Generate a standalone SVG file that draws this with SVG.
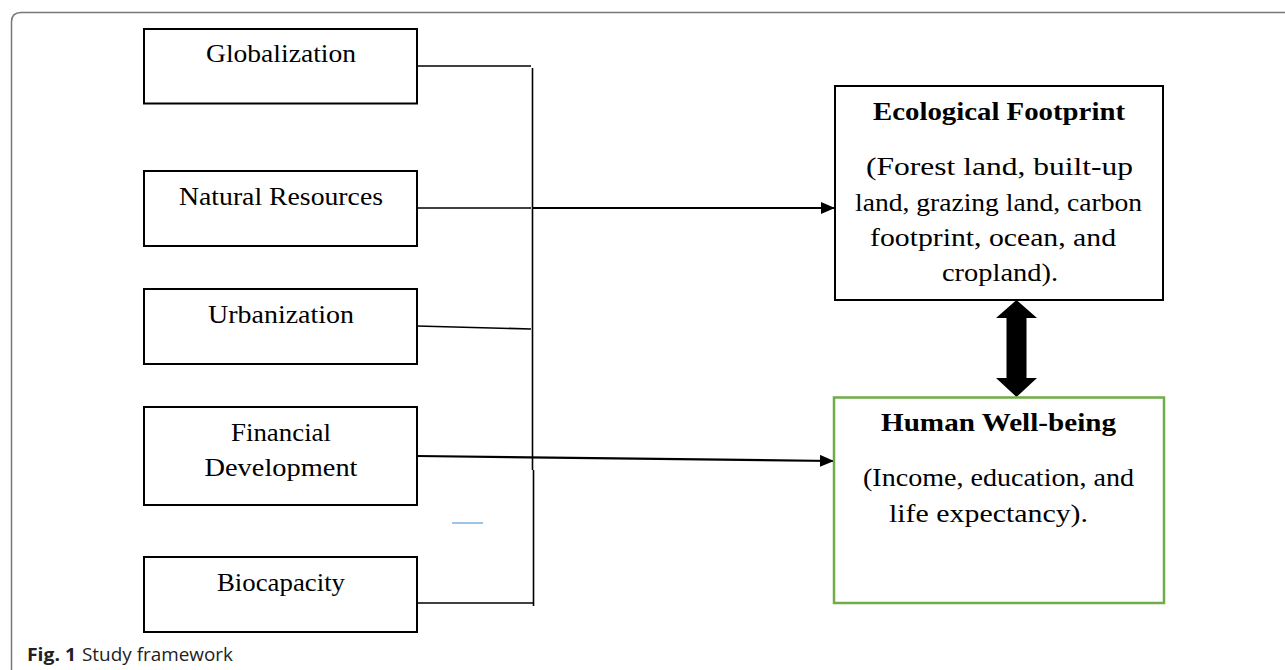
<svg xmlns="http://www.w3.org/2000/svg" width="1285" height="670" viewBox="0 0 1285 670">
<style>
.box{fill:#fff;stroke:#000;stroke-width:2}
.green{fill:#fff;stroke:#70ad47;stroke-width:2.5}
.t{font-family:"Liberation Serif",serif;font-size:26px;fill:#000;text-anchor:middle}
.b{font-weight:bold}
.ln{stroke:#000;stroke-width:1.6;fill:none}
.ar{stroke:#000;stroke-width:2.2;fill:none}
.cap{font-family:"Open Sans","Noto Sans",sans-serif;font-size:18px;fill:#222}
</style>
<defs>
<marker id="ah" markerWidth="14" markerHeight="12" refX="13" refY="6" orient="auto" markerUnits="userSpaceOnUse">
<path d="M0,0 L14,6 L0,12 Z" fill="#000"/>
</marker>
</defs>
<rect width="1285" height="670" fill="#fff"/>
<path d="M11.5,680 L11.5,22 Q11.5,12.5 21,12.5 L1295,12.5" fill="none" stroke="#777" stroke-width="1.5"/>
<g id="connectors">
<line class="ln" x1="417" y1="66" x2="531" y2="66"/>
<line class="ln" x1="532.5" y1="68" x2="532.5" y2="470"/>
<line class="ln" x1="533.5" y1="470" x2="533.5" y2="606"/>
<line class="ln" x1="417" y1="208" x2="531" y2="208"/>
<line class="ar" x1="532" y1="208" x2="834" y2="208" marker-end="url(#ah)"/>
<line class="ln" x1="417" y1="326" x2="531" y2="329"/>
<line class="ar" x1="417" y1="456" x2="833" y2="461" marker-end="url(#ah)"/>
<line class="ln" x1="417" y1="603" x2="534" y2="603"/>
<path d="M1016.5,300 L1037,318 L1026.5,318 L1026.5,378 L1037,378 L1016.5,397 L996,378 L1006.5,378 L1006.5,318 L996,318 Z" fill="#000"/>
<line x1="452" y1="523" x2="483" y2="523" stroke="#5b9bd5" stroke-width="1.2"/>
</g>
<g id="globalization">
<rect class="box" x="144" y="29" width="273" height="74.5"/>
<text class="t" x="281" y="62" textLength="150" lengthAdjust="spacingAndGlyphs">Globalization</text>
</g>
<g id="natural-resources">
<rect class="box" x="144" y="171" width="273" height="75"/>
<text class="t" x="281" y="205" textLength="204" lengthAdjust="spacingAndGlyphs">Natural Resources</text>
</g>
<g id="urbanization">
<rect class="box" x="144" y="289" width="273" height="75"/>
<text class="t" x="281" y="323" textLength="146" lengthAdjust="spacingAndGlyphs">Urbanization</text>
</g>
<g id="financial-development">
<rect class="box" x="144" y="407" width="273" height="98"/>
<text class="t" x="281" y="441" textLength="100" lengthAdjust="spacingAndGlyphs">Financial</text>
<text class="t" x="281" y="476" textLength="153" lengthAdjust="spacingAndGlyphs">Development</text>
</g>
<g id="biocapacity">
<rect class="box" x="144" y="557" width="273" height="75"/>
<text class="t" x="281" y="591" textLength="128" lengthAdjust="spacingAndGlyphs">Biocapacity</text>
</g>
<g id="ecological-footprint">
<rect class="box" x="835" y="86" width="328" height="214"/>
<text class="t b" x="999" y="120" textLength="252" lengthAdjust="spacingAndGlyphs">Ecological Footprint</text>
<text class="t" x="999.5" y="175" textLength="267" lengthAdjust="spacingAndGlyphs">(Forest land, built-up</text>
<text class="t" x="998.5" y="211" textLength="287" lengthAdjust="spacingAndGlyphs">land, grazing land, carbon</text>
<text class="t" x="993" y="246" textLength="246" lengthAdjust="spacingAndGlyphs">footprint, ocean, and</text>
<text class="t" x="1000" y="281" textLength="116" lengthAdjust="spacingAndGlyphs">cropland).</text>
</g>
<g id="human-well-being">
<rect class="green" x="834" y="397.5" width="330" height="205.5"/>
<text class="t b" x="998.5" y="431" textLength="235" lengthAdjust="spacingAndGlyphs">Human Well-being</text>
<text class="t" x="998.5" y="486" textLength="271" lengthAdjust="spacingAndGlyphs">(Income, education, and</text>
<text class="t" x="988.5" y="522" textLength="199" lengthAdjust="spacingAndGlyphs">life expectancy).</text>
</g>
<g id="caption">
<text class="cap" x="27" y="661"><tspan font-weight="bold" textLength="49" lengthAdjust="spacingAndGlyphs">Fig. 1</tspan><tspan x="82" textLength="151" lengthAdjust="spacingAndGlyphs">Study framework</tspan></text>
</g>
</svg>
